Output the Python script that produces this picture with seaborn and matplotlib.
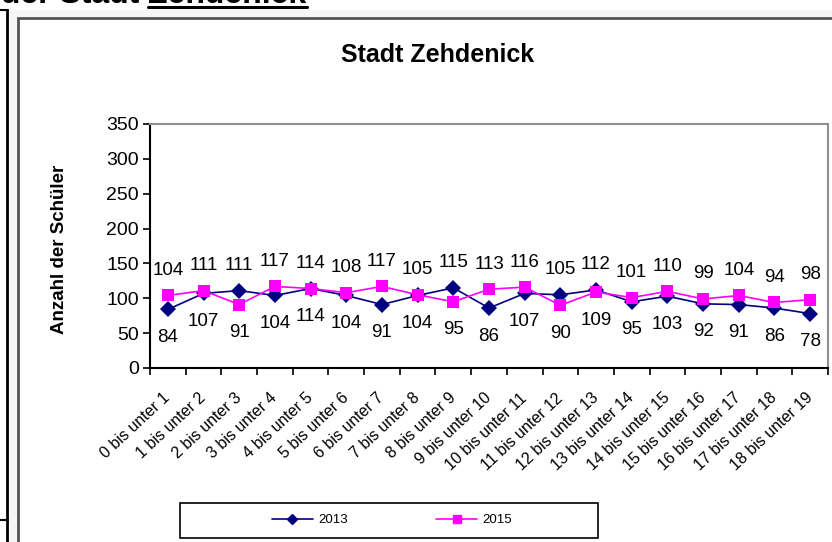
import numpy as np
import pandas as pd
import matplotlib
matplotlib.use("Agg")
import matplotlib.pyplot as plt
import matplotlib.transforms as mtransforms
from matplotlib.lines import Line2D
from matplotlib.patches import Rectangle
import seaborn as sns

categories = [f"{i} bis unter {i + 1}" for i in range(19)]
values_2013 = [84, 107, 111, 104, 114, 104, 91, 104, 115, 86, 107, 105, 112, 95, 103, 92, 91, 86, 78]
values_2015 = [104, 111, 91, 117, 114, 108, 117, 105, 95, 113, 116, 90, 109, 101, 110, 99, 104, 94, 98]
years = ["2013", "2015"]
y_ticks = [0, 50, 100, 150, 200, 250, 300, 350]

W, H = 832, 542

sns.set_theme(style="white")
plt.rcParams["font.family"] = ["Liberation Sans", "DejaVu Sans"]
plt.rcParams["text.color"] = "black"
plt.rcParams["xtick.color"] = "black"
plt.rcParams["ytick.color"] = "black"

df = pd.DataFrame({
    "pos": list(range(len(categories))) * 2,
    "Jahr": ["2013"] * len(categories) + ["2015"] * len(categories),
    "wert": values_2013 + values_2015,
})

fig = plt.figure(figsize=(W / 100, H / 100), dpi=100)
fig.patch.set_facecolor("white")

# surrounding document bits
fig.patches.append(Rectangle((8 / W, 0), (W - 8) / W, 1 - 10 / H, transform=fig.transFigure,
                             facecolor="#f6f6f6", edgecolor="none", zorder=0))
fig.patches.append(Rectangle((18 / W, -0.1), W / W, 1.1 - 18 / H, transform=fig.transFigure,
                             facecolor="white", edgecolor="#555555", linewidth=2, zorder=1))
fig.lines.append(Line2D([0, 8 / W], [1 - 10 / H, 1 - 10 / H], transform=fig.transFigure, color="black", lw=1.5))
fig.lines.append(Line2D([7.5 / W, 7.5 / W], [0, 1 - 10 / H], transform=fig.transFigure, color="black", lw=2))
fig.lines.append(Line2D([0, 8 / W], [1 - 520 / H, 1 - 520 / H], transform=fig.transFigure, color="black", lw=1.5))

fig.text(148 / W, 1 - 3 / H, "der Stadt ", ha="right", va="baseline", fontsize=23, fontweight="bold")
fig.text(148 / W, 1 - 3 / H, "Zehdenick", ha="left", va="baseline", fontsize=23, fontweight="bold")
fig.lines.append(Line2D([148 / W, 307 / W], [1 - 7 / H, 1 - 7 / H], transform=fig.transFigure, color="black", lw=2.2))

ax = fig.add_axes([150 / W, 1 - 368 / H, (828 - 150) / W, (368 - 124) / H], zorder=2)
palette = {"2013": "#000080", "2015": "#FF00FF"}
sns.lineplot(data=df, x="pos", y="wert", hue="Jahr", style="Jahr", palette=palette,
             markers={"2013": "D", "2015": "s"}, dashes=False, markersize=8,
             markeredgewidth=0, linewidth=1.2, legend=False, ax=ax)

# data labels: larger value above, smaller below
for i in range(len(categories)):
    a, b = values_2013[i], values_2015[i]
    hi, lo = (b, a) if b >= a else (a, b)
    ax.annotate(str(hi), (i, hi), xytext=(0, 25), textcoords="offset pixels",
                ha="center", va="center", fontsize=13.5)
    ax.annotate(str(lo), (i, lo), xytext=(0, -28), textcoords="offset pixels",
                ha="center", va="center", fontsize=13.5)

ax.set_xlim(-0.5, len(categories) - 0.5)
ax.set_ylim(0, 350)
ax.set_yticks(y_ticks)
ax.set_yticklabels([str(v) for v in y_ticks], fontsize=14)
ax.set_xticks(range(len(categories)))
ax.set_xticklabels(categories, rotation=43, ha="right", va="center", rotation_mode="anchor", fontsize=11.5)
shift = mtransforms.ScaledTranslation(2 / 100, 0, fig.dpi_scale_trans)
for lbl in ax.get_xticklabels():
    lbl.set_transform(lbl.get_transform() + shift)
ax.set_xticks(np.arange(-0.5, len(categories)), minor=True)
ax.tick_params(axis="x", which="major", length=0, pad=20)
ax.tick_params(axis="x", which="minor", length=5, width=1.2, color="black", direction="out", bottom=True)
ax.tick_params(axis="y", length=5, width=1.2, color="black", direction="out", left=True, pad=3)
ax.set_xlabel("")
ax.set_ylabel("")
for s in ["left", "bottom"]:
    ax.spines[s].set_color("black")
    ax.spines[s].set_linewidth(1.5)
for s in ["top", "right"]:
    ax.spines[s].set_color("#909090")
    ax.spines[s].set_linewidth(1.5)
ax.set_facecolor("white")

fig.text(438 / W, 1 - 55 / H, "Stadt Zehdenick", ha="center", va="center", fontsize=18, fontweight="bold")
fig.text(60 / W, 1 - 249 / H, "Anzahl der Schüler", ha="center", va="center", rotation=90,
         fontsize=13.5, fontweight="bold")

# legend box
fig.patches.append(Rectangle((180 / W, 1 - 538 / H), 418 / W, 35 / H, transform=fig.transFigure,
                             facecolor="white", edgecolor="black", linewidth=1.2, zorder=3))
handles = [Line2D([], [], color=palette["2013"], marker="D", markersize=5, lw=1.2),
           Line2D([], [], color=palette["2015"], marker="s", markersize=6, lw=1.2)]
leg = fig.legend(handles, years, loc="center", bbox_to_anchor=(392 / W, 1 - 520 / H),
                 ncol=2, frameon=False, fontsize=9.5, handlelength=3.1, columnspacing=6.7,
                 handletextpad=0.4)
leg.set_zorder(4)

fig.savefig("out.png", dpi=100)
